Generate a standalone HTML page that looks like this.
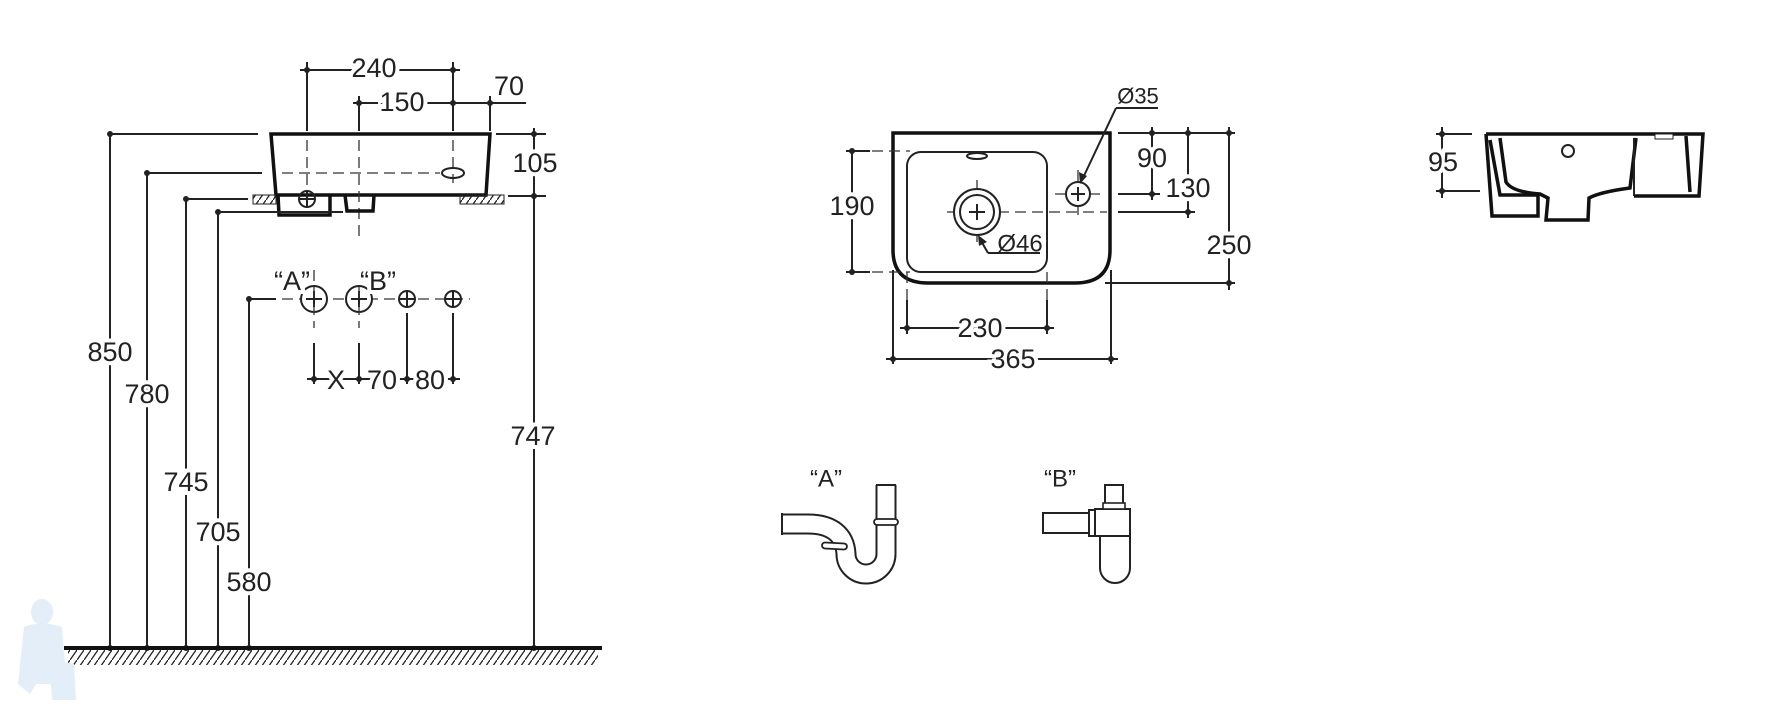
<!DOCTYPE html>
<html><head><meta charset="utf-8"><style>
html,body{margin:0;padding:0;background:#fff;}
svg{display:block}
text{font-family:"Liberation Sans",Arial,sans-serif;font-size:27px;fill:#222;text-anchor:middle;dominant-baseline:central;paint-order:stroke;stroke:#fff;stroke-width:8px;}
.l{stroke:#222;stroke-width:2;fill:none}
.t{stroke:#111;stroke-width:3.5;fill:none}
.d{stroke:#333;stroke-width:1.3;fill:none;stroke-dasharray:11 6}
.p{fill:#222}
</style></head><body>
<svg width="1782" height="712" viewBox="0 0 1782 712" xmlns="http://www.w3.org/2000/svg">
<defs>
<pattern id="h" width="7" height="10" patternUnits="userSpaceOnUse"><line x1="0" y1="10" x2="7" y2="0" stroke="#222" stroke-width="1.3"/></pattern>
</defs>

<!-- ===== SIDE VIEW (left) ===== -->
<line class="l" x1="307" y1="62" x2="307" y2="131"/>
<line class="l" x1="453" y1="62" x2="453" y2="131"/>
<line class="l" x1="300" y1="70" x2="460" y2="70"/>
<circle class="p" cx="307" cy="70" r="3"/><circle class="p" cx="453" cy="70" r="3"/>
<text x="374" y="68">240</text>
<line class="l" x1="359" y1="96" x2="359" y2="131"/>
<line class="l" x1="490" y1="96" x2="490" y2="131"/>
<line class="l" x1="353" y1="103" x2="526" y2="103"/>
<circle class="p" cx="359" cy="103" r="3"/><circle class="p" cx="453" cy="103" r="3"/><circle class="p" cx="490" cy="103" r="3"/>
<text x="402" y="102">150</text>
<text x="509" y="86">70</text>

<!-- basin -->
<path class="t" d="M271,134 L490,134 L486,195 L276,195 Z"/>
<line class="d" x1="307" y1="140" x2="307" y2="192"/>
<line class="d" x1="359" y1="140" x2="359" y2="238"/>
<line class="d" x1="453" y1="140" x2="453" y2="183"/>
<line class="d" x1="282" y1="173" x2="440" y2="173"/>
<ellipse class="l" cx="453" cy="173" rx="11" ry="5"/>
<rect x="253" y="195" width="23" height="9" fill="url(#h)" stroke="#222" stroke-width="1"/>
<rect x="460" y="195" width="44" height="9" fill="url(#h)" stroke="#222" stroke-width="1"/>
<path class="t" d="M278,195 L279,215 L330,215 L330,195" stroke-width="3"/>
<path class="t" d="M345,195 L347,211 L373,211 L374,195" stroke-width="3"/>
<circle class="l" cx="307" cy="199" r="8"/>
<line class="l" x1="299" y1="199" x2="315" y2="199"/><line class="l" x1="307" y1="191" x2="307" y2="207"/>

<!-- height dims -->
<line class="l" x1="110" y1="134" x2="258" y2="134"/>
<line class="l" x1="147" y1="173" x2="262" y2="173"/>
<line class="l" x1="186" y1="199" x2="248" y2="199"/>
<line class="l" x1="218" y1="212" x2="343" y2="212"/>
<line class="l" x1="249" y1="299" x2="276" y2="299"/>
<line class="l" x1="110" y1="134" x2="110" y2="648"/>
<line class="l" x1="147" y1="173" x2="147" y2="648"/>
<line class="l" x1="186" y1="199" x2="186" y2="648"/>
<line class="l" x1="218" y1="212" x2="218" y2="648"/>
<line class="l" x1="249" y1="299" x2="249" y2="648"/>
<line class="l" x1="496" y1="134" x2="546" y2="134"/>
<line class="l" x1="508" y1="196" x2="546" y2="196"/>
<line class="l" x1="534" y1="128" x2="534" y2="648"/>
<g class="p">
<circle cx="110" cy="134" r="3"/><circle cx="147" cy="173" r="3"/><circle cx="186" cy="199" r="3"/><circle cx="218" cy="212" r="3"/><circle cx="249" cy="299" r="3"/>
<circle cx="534" cy="134" r="3"/><circle cx="534" cy="196" r="3"/>
<circle cx="110" cy="648" r="3"/><circle cx="147" cy="648" r="3"/><circle cx="186" cy="648" r="3"/><circle cx="218" cy="648" r="3"/><circle cx="249" cy="648" r="3"/><circle cx="534" cy="648" r="3"/>
</g>
<text x="535" y="163">105</text>
<text x="110" y="352">850</text>
<text x="147" y="394">780</text>
<text x="186" y="482">745</text>
<text x="218" y="532">705</text>
<text x="249" y="582">580</text>
<text x="533" y="436">747</text>

<!-- hole row -->
<line class="d" x1="282" y1="299" x2="470" y2="299"/>
<circle cx="314" cy="299" r="13" fill="#fff" stroke="#222" stroke-width="2"/>
<circle cx="359" cy="299" r="13" fill="#fff" stroke="#222" stroke-width="2"/>
<circle cx="407" cy="299" r="8" fill="#fff" stroke="#222" stroke-width="2"/>
<circle cx="453" cy="299" r="8" fill="#fff" stroke="#222" stroke-width="2"/>
<g class="l" stroke-width="1.2">
<line x1="306" y1="299" x2="322" y2="299"/><line x1="314" y1="291" x2="314" y2="307"/>
<line x1="351" y1="299" x2="367" y2="299"/><line x1="359" y1="291" x2="359" y2="307"/>
<line x1="399" y1="299" x2="415" y2="299"/><line x1="407" y1="291" x2="407" y2="307"/>
<line x1="445" y1="299" x2="461" y2="299"/><line x1="453" y1="291" x2="453" y2="307"/>
</g>
<line class="d" x1="314" y1="270" x2="314" y2="328"/>
<line class="d" x1="359" y1="270" x2="359" y2="328"/>
<text x="292" y="281">“A”</text>
<text x="378" y="281">“B”</text>
<line class="l" x1="314" y1="343" x2="314" y2="384"/>
<line class="l" x1="359" y1="343" x2="359" y2="384"/>
<line class="l" x1="407" y1="313" x2="407" y2="384"/>
<line class="l" x1="453" y1="313" x2="453" y2="384"/>
<line class="l" x1="307" y1="379" x2="460" y2="379"/>
<g class="p"><circle cx="314" cy="379" r="3"/><circle cx="359" cy="379" r="3"/><circle cx="407" cy="379" r="3"/><circle cx="453" cy="379" r="3"/></g>
<text x="336" y="380">X</text>
<text x="382" y="380">70</text>
<text x="430" y="380">80</text>

<!-- ground -->
<rect x="68" y="649" width="530" height="16" fill="url(#h)"/>
<line x1="64" y1="648" x2="602" y2="648" stroke="#111" stroke-width="4"/>
<g fill="#e3eef8">
<ellipse cx="42" cy="612" rx="11" ry="13"/>
<path d="M24,627 Q42,620 62,627 L66,680 L56,692 L50,684 L36,684 L30,694 L18,684 Z"/>
<path d="M50,665 Q60,660 74,664 L76,700 L52,700 Z"/>
</g>

<!-- ===== TOP VIEW ===== -->
<path class="t" d="M893,133 H1110 V250 Q1110,283 1075,283 H928 Q893,283 893,250 Z"/>
<rect class="l" x="907" y="152" width="140" height="120" rx="14" stroke-width="2"/>
<ellipse class="l" cx="977" cy="156" rx="10" ry="3" stroke-width="1.3"/>
<line class="d" x1="947" y1="212" x2="1107" y2="212"/>
<line class="d" x1="1055" y1="194" x2="1100" y2="194"/>
<line class="d" x1="977" y1="180" x2="977" y2="244"/>
<line class="d" x1="1078" y1="170" x2="1078" y2="218"/>
<circle cx="977" cy="212" r="23" fill="#fff" stroke="#222" stroke-width="2"/>
<circle cx="977" cy="212" r="17" fill="#fff" stroke="#222" stroke-width="2"/>
<line class="l" x1="969" y1="212" x2="985" y2="212" stroke-width="1.2"/><line class="l" x1="977" y1="204" x2="977" y2="220" stroke-width="1.2"/>
<circle cx="1078" cy="194" r="12" fill="#fff" stroke="#222" stroke-width="2"/>
<line class="l" x1="1071" y1="194" x2="1085" y2="194" stroke-width="1.2"/><line class="l" x1="1078" y1="187" x2="1078" y2="201" stroke-width="1.2"/>
<line class="l" x1="852" y1="151" x2="852" y2="272"/>
<line class="l" x1="846" y1="151" x2="870" y2="151"/><line class="d" x1="872" y1="151" x2="910" y2="151"/>
<line class="l" x1="846" y1="272" x2="870" y2="272"/><line class="d" x1="872" y1="272" x2="910" y2="272"/>
<circle class="p" cx="852" cy="151" r="3"/><circle class="p" cx="852" cy="272" r="3"/>
<text x="852" y="206">190</text>
<line class="d" x1="907" y1="272" x2="907" y2="300"/><line class="l" x1="907" y1="300" x2="907" y2="334"/>
<line class="d" x1="1047" y1="272" x2="1047" y2="300"/><line class="l" x1="1047" y1="300" x2="1047" y2="334"/>
<line class="l" x1="900" y1="328" x2="1054" y2="328"/>
<circle class="p" cx="907" cy="328" r="3"/><circle class="p" cx="1047" cy="328" r="3"/>
<text x="980" y="328">230</text>
<line class="l" x1="893" y1="270" x2="893" y2="364"/>
<line class="l" x1="1111" y1="270" x2="1111" y2="364"/>
<line class="l" x1="886" y1="359" x2="1118" y2="359"/>
<circle class="p" cx="893" cy="359" r="3"/><circle class="p" cx="1111" cy="359" r="3"/>
<text x="1013" y="359">365</text>
<line class="l" x1="1118" y1="133" x2="1235" y2="133"/>
<line class="l" x1="1118" y1="194" x2="1160" y2="194"/>
<line class="l" x1="1118" y1="212" x2="1195" y2="212"/>
<line class="l" x1="1105" y1="283" x2="1235" y2="283"/>
<line class="l" x1="1152" y1="127" x2="1152" y2="200"/>
<line class="l" x1="1188" y1="127" x2="1188" y2="218"/>
<line class="l" x1="1229" y1="127" x2="1229" y2="290"/>
<g class="p"><circle cx="1152" cy="133" r="3"/><circle cx="1188" cy="133" r="3"/><circle cx="1229" cy="133" r="3"/><circle cx="1152" cy="194" r="3"/><circle cx="1188" cy="212" r="3"/><circle cx="1229" cy="283" r="3"/></g>
<text x="1152" y="158">90</text>
<text x="1188" y="188">130</text>
<text x="1229" y="245">250</text>
<text x="1138" y="96" style="font-size:22px">Ø35</text>
<line class="l" x1="1116" y1="108" x2="1158" y2="108" stroke-width="1.5"/>
<line class="l" x1="1116" y1="108" x2="1082" y2="180" stroke-width="1.5"/>
<path class="p" d="M1080,184 L1079,172 L1087,176 Z"/>
<text x="1020" y="244" style="font-size:24px">Ø46</text>
<line class="l" x1="988" y1="253" x2="1040" y2="253" stroke-width="1.5"/>
<line class="l" x1="988" y1="253" x2="980" y2="239" stroke-width="1.5"/>
<path class="p" d="M978,235 L987,242 L979,246 Z"/>

<!-- ===== RIGHT VIEW ===== -->
<path class="t" d="M1486,134 H1703 L1699,196 H1634"/>
<path class="t" d="M1486,134 L1492,216 H1538 V195 L1500,195 L1490,140" stroke-width="3"/>
<path class="t" d="M1500,138 L1506,182 Q1512,192 1540,194 L1548,198 L1546,220 H1588 L1589,198 Q1600,192 1630,188 L1636,138" stroke-width="3.5"/>
<path class="t" d="M1686,136 L1690,192" stroke-width="3"/>
<line class="l" x1="1634" y1="138" x2="1634" y2="196" stroke-width="3"/>
<rect x="1655" y="134" width="18" height="5" fill="#fff" stroke="#222" stroke-width="1"/>
<circle class="l" cx="1568" cy="151" r="6"/>
<line class="l" x1="1436" y1="134" x2="1472" y2="134"/>
<line class="l" x1="1436" y1="191" x2="1480" y2="191"/>
<line class="l" x1="1442" y1="127" x2="1442" y2="198"/>
<circle class="p" cx="1442" cy="134" r="3"/><circle class="p" cx="1442" cy="191" r="3"/>
<text x="1443" y="162">95</text>

<!-- ===== SIPHONS ===== -->
<text x="826" y="479" style="font-size:24px">“A”</text>
<path d="M782,524 H808 C832,524 845,535 846,554 A20,20 0 0 0 886,554 V485" stroke="#222" stroke-width="21" fill="none"/>
<path d="M783,524 H808 C832,524 845,535 846,554 A20,20 0 0 0 886,554 V486" stroke="#fff" stroke-width="17" fill="none"/>
<line class="l" x1="782" y1="513" x2="782" y2="535" stroke-width="2"/>
<line class="l" x1="876" y1="485" x2="896" y2="485" stroke-width="2"/>
<rect x="874" y="519" width="24" height="6" rx="3" fill="#fff" stroke="#222" stroke-width="1.8"/>
<rect x="822" y="543" width="25" height="6" rx="3" fill="#fff" stroke="#222" stroke-width="1.8" transform="rotate(3 835 546)"/>

<text x="1060" y="479" style="font-size:24px">“B”</text>
<rect x="1043" y="513" width="46" height="20" fill="#fff" stroke="#222" stroke-width="2"/>
<rect x="1089" y="510" width="6" height="26" fill="#fff" stroke="#222" stroke-width="2"/>
<path d="M1100,536 V568 A15,15 0 0 0 1130,568 V536" fill="#fff" stroke="#222" stroke-width="2"/>
<rect x="1095" y="509" width="35" height="27" fill="#fff" stroke="#222" stroke-width="2"/>
<rect x="1105" y="485" width="18" height="19" fill="#fff" stroke="#222" stroke-width="2"/>
<rect x="1103" y="503" width="22" height="6" fill="#fff" stroke="#222" stroke-width="1.6"/>
</svg>
</body></html>
